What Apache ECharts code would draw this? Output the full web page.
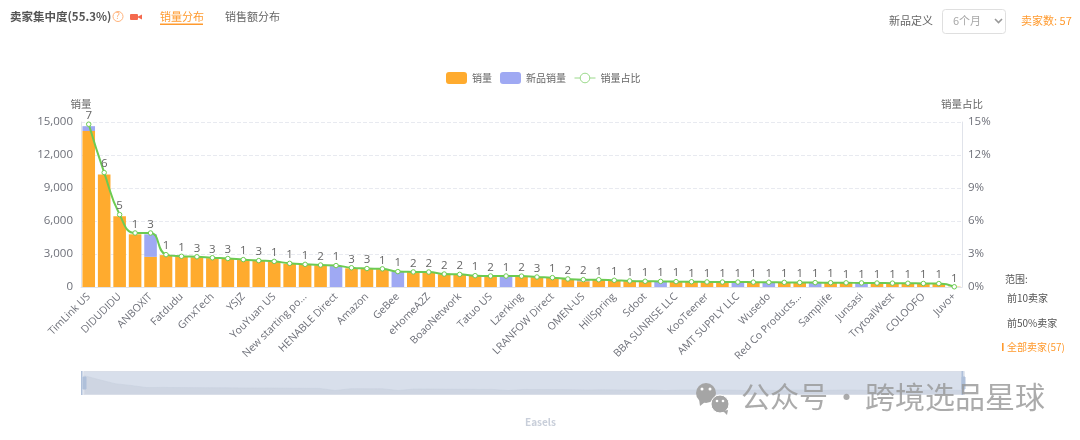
<!DOCTYPE html>
<html>
<head>
<meta charset="utf-8">
<style>html,body{margin:0;padding:0;background:#fff}#c{width:1080px;height:440px}</style>
<script src="https://cdn.jsdelivr.net/npm/echarts@6/dist/echarts.min.js"></script>
</head>
<body>
<div id="c"></div>
<script>
const categories = ['TimLink US','','DIDUDIDU','','ANBOXIT','','Fatdudu','','GmxTech','','YSJZ','','YouYuan US','','New starting po...','','HENABLE Direct','','Amazon','','GeBee','','eHomeA2Z','','BoaoNetwork','','Tatuo US','','Lzerking','','LRANFOW Direct','','OMEN-US','','HillSpring','','Sdoot','','BBA SUNRISE LLC','','KooTeener','','AMT SUPPLY LLC','','Wusedo','','Red Co Products...','','Samplife','','Junsasi','','TrytoalWest','','COLOOFO','','Juvo+'];
const salesValues = [14180,10220,6430,4790,2740,2900,2750,2700,2620,2550,2450,2370,2300,2120,2030,1970,0,1700,1650,1620,0,1350,1340,1160,1130,1010,990,0,980,890,830,710,520,650,590,530,500,0,470,470,440,430,0,430,0,410,400,0,380,370,0,350,340,330,320,300,30];
const newSalesValues = [440,0,0,0,2050,0,0,0,0,0,0,0,0,0,0,0,1900,0,0,0,1380,0,0,0,0,0,0,980,0,0,0,0,130,0,0,0,0,500,0,0,0,0,430,0,420,0,0,390,0,0,360,0,0,0,0,0,0];
const sharePercent = [14.8,10.4,6.58,4.91,4.91,2.94,2.79,2.75,2.66,2.59,2.49,2.4,2.33,2.15,2.06,2.0,1.95,1.75,1.68,1.65,1.4,1.37,1.36,1.18,1.15,1.03,1.0,1.0,0.99,0.91,0.85,0.73,0.67,0.66,0.61,0.55,0.52,0.51,0.49,0.48,0.46,0.45,0.45,0.44,0.43,0.42,0.41,0.4,0.39,0.38,0.37,0.36,0.35,0.34,0.32,0.31,0.02];
const sellerCounts = [7,6,5,1,3,1,1,3,3,3,1,3,1,1,1,2,1,3,3,1,1,2,2,2,2,1,2,1,2,3,1,2,2,1,1,1,1,1,1,1,1,1,1,1,1,1,1,1,1,1,1,1,1,1,1,1,1];
const salesTicks = {min:0,max:15000,interval:3000};
const shareTicks = {min:0,max:15,interval:3};

const FF = '"Open Sans","Noto Sans CJK SC",sans-serif';
const CJK = '"Noto Sans CJK SC","Open Sans",sans-serif';
const ORANGE = '#FFAB2E', PURPLE = '#9FA9F3', GREEN = '#6CCB52', ACC = '#FF9A2E';
const txt = (x,y,text,o={}) => ({type:'text',left:x,top:y-5,silent:true,z:o.z||5,style:{text,fill:o.fill||'#555',font:(o.bold?'bold ':'')+(o.size||11)+'px '+CJK,opacity:o.opacity==null?1:o.opacity}});
const WM = 'rgba(150,150,150,0.8)';

const graphic = [
  txt(10,15.5,'卖家集中度(55.3%)',{bold:true,size:11.5,fill:'#555'}),
  {type:'circle',shape:{cx:118,cy:16.5,r:5},style:{fill:'none',stroke:'#FFB27A',lineWidth:1},silent:true},
  {type:'text',left:115.8,top:12,style:{text:'?',fill:'#FFA565',font:'9px '+FF},silent:true},
  {type:'rect',shape:{x:130,y:14,width:8,height:6,r:1},style:{fill:'#F4694E'},silent:true},
  {type:'polygon',shape:{points:[[138,16.5],[142,14.5],[142,19.5],[138,17.5]]},style:{fill:'#F4694E'},silent:true},
  txt(160,16,'销量分布',{fill:ACC,size:11}),
  {type:'rect',shape:{x:160,y:23.5,width:43,height:1.6},style:{fill:ACC},silent:true},
  txt(225,16,'销售额分布',{fill:'#666',size:11}),
  txt(889,20,'新品定义',{fill:'#666',size:11}),
  {type:'rect',shape:{x:942.5,y:9.5,width:63,height:24,r:3},style:{fill:'#fff',stroke:'#DFDFDF',lineWidth:1},silent:true},
  txt(953,20,'6个月',{fill:'#A8A8A8',size:11}),
  {type:'polyline',shape:{points:[[995,19],[998.5,22.5],[1002,19]]},style:{fill:'none',stroke:'#999',lineWidth:1.6},silent:true},
  txt(1021,20,'卖家数: 57',{fill:ACC,size:11}),
  txt(1005,279,'范围:',{fill:'#555',size:10}),
  txt(1007,298,'前10卖家',{fill:'#555',size:10}),
  txt(1007,323,'前50%卖家',{fill:'#555',size:10}),
  {type:'rect',shape:{x:1002,y:343,width:1.6,height:8},style:{fill:ACC},silent:true},
  txt(1007,347,'全部卖家(57)',{fill:ACC,size:10}),
  txt(525,422,'Easels',{fill:'#C9CFDA',size:10,bold:true}),
  {type:'rect',shape:{x:81,y:371,width:1.6,height:24},style:{fill:'#AFC0DA'},silent:true,z:8},
  {type:'rect',shape:{x:961.5,y:371,width:1.6,height:24},style:{fill:'#AFC0DA'},silent:true,z:8},
  {type:'circle',shape:{cx:706,cy:393,r:10},style:{fill:'#A5A5A5'},silent:true,z:10},
  {type:'polygon',shape:{points:[[699,399],[705,402],[700,406]]},style:{fill:'#A5A5A5'},silent:true,z:10},
  {type:'circle',shape:{cx:720,cy:404,r:9},style:{fill:'#A5A5A5',stroke:'#fff',lineWidth:1},silent:true,z:10},
  {type:'polygon',shape:{points:[[723,411],[728,410],[727,415]]},style:{fill:'#A5A5A5'},silent:true,z:10},
  {type:'circle',shape:{cx:702,cy:389,r:1.5},style:{fill:'#fff'},silent:true,z:11},
  {type:'circle',shape:{cx:710,cy:389,r:1.5},style:{fill:'#fff'},silent:true,z:11},
  {type:'circle',shape:{cx:717,cy:401,r:1.3},style:{fill:'#fff'},silent:true,z:11},
  {type:'circle',shape:{cx:723,cy:401,r:1.3},style:{fill:'#fff'},silent:true,z:11},
  {type:'text',left:741,top:382,z:10,silent:true,style:{text:'公众号',fill:WM,font:'29px '+CJK}},
  {type:'text',left:832,top:382,z:10,silent:true,style:{text:'·',fill:WM,font:'29px '+CJK}},
  {type:'text',left:865,top:382,z:10,silent:true,style:{text:'跨境选品星球',fill:WM,font:'30px '+CJK}}
];

const chart = echarts.init(document.getElementById('c'),null,{renderer:'canvas'});
chart.setOption({
  animation:false,
  textStyle:{fontFamily:FF},
  tooltip:{show:false},
  legend:{
    top:67,left:441,itemWidth:21,itemHeight:12,itemGap:8,
    textStyle:{fontSize:10,color:'#666',fontFamily:CJK},
    data:[{name:'销量',icon:'roundRect'},
      {name:'新品销量',icon:'roundRect'},
      {name:'销量占比',lineStyle:{width:1,color:'#9AD98A'},itemStyle:{color:'#fff',borderColor:'#9AD98A',borderWidth:1}}]
  },
  grid:{left:81,right:118,top:122,height:165},
  xAxis:{
    type:'category',data:categories,
    axisLabel:{interval:1,rotate:45,fontSize:10.5,color:'#6E7079',margin:8},
    axisLine:{lineStyle:{color:'#E0E3EA'}},
    axisTick:{lineStyle:{color:'#E0E3EA'},interval:1}
  },
  yAxis:[
    {type:'value',name:'销量',...salesTicks,nameGap:13,nameTextStyle:{color:'#666',fontSize:10.5,fontFamily:CJK},
      axisLabel:{fontSize:11.5,color:'#6E7079'},axisLine:{show:true,lineStyle:{color:'#E0E3EA'}},axisTick:{show:false},
      splitLine:{lineStyle:{type:'dashed',color:'#E8EAF0'}}},
    {type:'value',name:'销量占比',...shareTicks,nameGap:13,nameTextStyle:{color:'#666',fontSize:10.5,fontFamily:CJK},
      axisLabel:{fontSize:11.5,color:'#6E7079',margin:6,formatter:'{value}%'},axisLine:{show:true,lineStyle:{color:'#E0E3EA'}},axisTick:{show:false},
      splitLine:{show:false}}
  ],
  dataZoom:[{
    type:'slider',xAxisIndex:0,start:0,end:100,left:81,right:118,top:371,height:24,
    showDetail:false,brushSelect:false,moveHandleSize:0,
    backgroundColor:'#DCE2EC',borderColor:'#D9DEE8',fillerColor:'rgba(190,205,230,0.12)',
    dataBackground:{lineStyle:{color:'#C8CFDC',width:0.5},areaStyle:{color:'#BCC4D2',opacity:0.35}},
    selectedDataBackground:{lineStyle:{color:'#C8CFDC',width:0.5},areaStyle:{color:'#BCC4D2',opacity:0.35}},
    handleIcon:'path://M0,0H3V12H0Z',handleSize:'50%',
    handleStyle:{color:'#AFC0DA',borderColor:'#AFC0DA'}
  }],
  series:[
    {name:'销量',type:'bar',stack:'s',barWidth:12.6,data:salesValues,itemStyle:{color:ORANGE}},
    {name:'新品销量',type:'bar',stack:'s',barWidth:12.6,data:newSalesValues,itemStyle:{color:PURPLE}},
    {name:'销量占比',type:'line',yAxisIndex:1,data:sharePercent,smooth:true,z:5,
      symbol:'circle',symbolSize:4.5,showAllSymbol:true,
      lineStyle:{color:GREEN,width:2},
      itemStyle:{color:'#fff',borderColor:GREEN,borderWidth:1},
      label:{show:true,position:'top',distance:0,fontSize:11.5,color:'#666',
        formatter:p=>String(sellerCounts[p.dataIndex])}}
  ],
  graphic
});
</script>
</body>
</html>
